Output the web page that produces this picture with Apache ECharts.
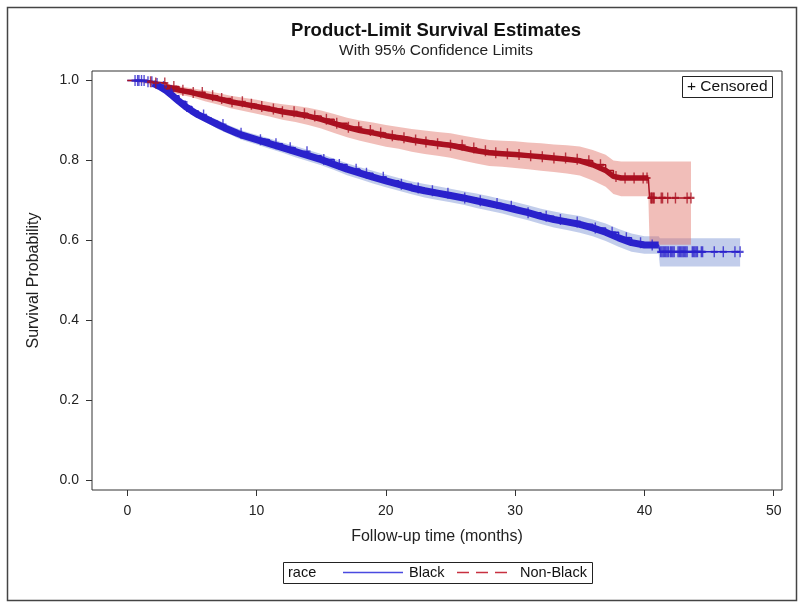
<!DOCTYPE html>
<html>
<head>
<meta charset="utf-8">
<script src="https://cdn.jsdelivr.net/npm/echarts@6/dist/echarts.min.js"></script>
<style>
  html, body { margin: 0; padding: 0; background: #fff; }
  #chart { width: 800px; height: 604px; }
</style>
</head>
<body>
<div id="chart"></div>
<script>
// Black: step survival curve with 95% limits
var blackTime  = [0, 1.5, 2.0, 2.5, 3.0, 3.5, 4.0, 4.5, 5.0, 5.5, 6.0, 6.5, 7.0, 7.5, 8.0, 8.5, 9.0, 9.5, 10, 11, 12, 13, 14, 15, 16, 17, 18, 19, 20, 21, 22, 23, 24, 25, 26, 27, 28, 29, 30, 31, 32, 33, 34, 35, 36, 37, 38, 39, 40, 41.1, 41.2, 47.4];
var blackSurv  = [1.0, 0.997, 0.993, 0.985, 0.975, 0.962, 0.948, 0.935, 0.924, 0.914, 0.906, 0.898, 0.890, 0.882, 0.875, 0.868, 0.862, 0.857, 0.852, 0.842, 0.832, 0.822, 0.812, 0.802, 0.790, 0.778, 0.768, 0.758, 0.749, 0.740, 0.731, 0.724, 0.718, 0.712, 0.706, 0.699, 0.692, 0.685, 0.677, 0.669, 0.660, 0.652, 0.646, 0.640, 0.631, 0.620, 0.606, 0.594, 0.588, 0.588, 0.571, 0.571];
var blackLower = [1.0, 0.994, 0.989, 0.980, 0.969, 0.955, 0.940, 0.927, 0.915, 0.905, 0.896, 0.888, 0.879, 0.871, 0.864, 0.856, 0.850, 0.845, 0.840, 0.829, 0.819, 0.808, 0.798, 0.788, 0.776, 0.763, 0.753, 0.742, 0.733, 0.724, 0.715, 0.707, 0.701, 0.695, 0.689, 0.681, 0.674, 0.667, 0.658, 0.650, 0.641, 0.632, 0.626, 0.619, 0.610, 0.598, 0.584, 0.571, 0.566, 0.566, 0.534, 0.534];
var blackUpper = [1.0, 1.0, 0.997, 0.990, 0.981, 0.969, 0.956, 0.943, 0.933, 0.923, 0.916, 0.908, 0.901, 0.893, 0.886, 0.880, 0.874, 0.869, 0.864, 0.855, 0.845, 0.836, 0.826, 0.816, 0.804, 0.793, 0.783, 0.774, 0.765, 0.756, 0.747, 0.741, 0.735, 0.729, 0.723, 0.717, 0.710, 0.703, 0.696, 0.688, 0.679, 0.672, 0.666, 0.661, 0.652, 0.642, 0.628, 0.617, 0.610, 0.610, 0.605, 0.605];
var blackCensored = [0.6, 0.8, 0.9, 1.1, 1.3, 1.6, 1.9, 2.3, 2.8, 3.4, 4.6, 5.9, 7.4, 8.8, 10.3, 11.5, 12.6, 13.9, 15.2, 16.4, 17.7, 18.5, 19.8, 21.2, 22.5, 23.6, 24.8, 26.1, 27.3, 28.6, 29.7, 31.0, 32.4, 33.5, 34.8, 36.2, 37.5, 38.6, 39.7, 40.6,
  41.25, 41.35, 41.45, 41.55, 41.65, 41.75, 41.85, 42.0, 42.1, 42.2, 42.3, 42.6, 42.7, 42.8, 42.9, 43.0, 43.1, 43.2, 43.3, 43.7, 43.8, 43.9, 44.0, 44.1, 44.4, 44.5, 45.4, 46.1, 47.0, 47.4];

// Non-Black
var nonBlackTime  = [0, 1.5, 2, 3, 4, 5, 6, 7, 8, 9, 10, 11, 12, 13, 14, 15, 16, 17, 18, 19, 20, 21, 22, 23, 24, 25, 26, 27, 28, 29, 30, 31, 32, 33, 34, 35, 36, 37, 37.6, 38.2, 40.3, 40.4, 43.6];
var nonBlackSurv  = [1.0, 0.997, 0.994, 0.985, 0.976, 0.970, 0.962, 0.955, 0.947, 0.941, 0.935, 0.929, 0.922, 0.917, 0.911, 0.903, 0.893, 0.883, 0.875, 0.869, 0.862, 0.857, 0.851, 0.846, 0.842, 0.838, 0.831, 0.824, 0.819, 0.817, 0.815, 0.812, 0.809, 0.806, 0.803, 0.799, 0.789, 0.775, 0.760, 0.756, 0.756, 0.706, 0.706];
var nonBlackLower = [1.0, 0.992, 0.988, 0.976, 0.965, 0.958, 0.948, 0.940, 0.931, 0.924, 0.917, 0.910, 0.902, 0.896, 0.889, 0.880, 0.869, 0.858, 0.849, 0.842, 0.834, 0.829, 0.822, 0.816, 0.812, 0.807, 0.799, 0.792, 0.786, 0.784, 0.781, 0.778, 0.774, 0.771, 0.767, 0.762, 0.750, 0.734, 0.716, 0.710, 0.710, 0.589, 0.589];
var nonBlackUpper = [1.0, 1.0, 0.999, 0.993, 0.986, 0.981, 0.975, 0.969, 0.962, 0.957, 0.952, 0.946, 0.941, 0.937, 0.932, 0.925, 0.916, 0.907, 0.900, 0.895, 0.889, 0.884, 0.879, 0.875, 0.871, 0.868, 0.862, 0.856, 0.851, 0.849, 0.848, 0.845, 0.843, 0.840, 0.838, 0.835, 0.826, 0.814, 0.800, 0.797, 0.797, 0.797, 0.797];
var nonBlackCensored = [1.8, 2.2, 2.9, 3.6, 4.3, 5.1, 5.8, 6.6, 7.3, 8.1, 8.9, 9.6, 10.4, 11.3, 12.0, 12.9, 13.7, 14.5, 15.4, 16.2, 17.1, 17.9, 18.8, 19.6, 20.5, 21.4, 22.3, 23.1, 24.0, 25.0, 25.9, 26.8, 27.7, 28.5, 29.4, 30.3, 31.2, 32.1, 33.0, 33.9, 34.8, 35.7, 36.6, 37.8, 38.5, 39.2, 39.9, 40.2,
  40.5, 40.55, 40.6, 40.7, 40.75, 41.3, 41.4, 41.8, 42.4, 43.3, 43.6];

var xTicks = [0, 10, 20, 30, 40, 50];
var yTicks = [0, 0.2, 0.4, 0.6, 0.8, 1.0];

var blueLine = '#2a22cc';
var redLine = '#aa1020';
var blueBand = 'rgba(120,145,210,0.45)';
var redBand = 'rgba(225,110,100,0.45)';
var font = 'Liberation Sans, Arial, sans-serif';

function pairs(t, v) {
  var out = [];
  for (var i = 0; i < t.length; i++) out.push([t[i], v[i]]);
  return out;
}
// survival value in effect at time x (step function)
function survAt(t, s, x) {
  var v = s[0];
  for (var i = 0; i < t.length; i++) { if (t[i] <= x) v = s[i]; }
  return v;
}
function censorPts(c, t, s) {
  return c.map(function (x) { return [x, survAt(t, s, x)]; });
}
function between(t, s, a, b) {
  var out = [];
  for (var i = 0; i < t.length; i++) if (t[i] >= a && t[i] <= b) out.push([t[i], s[i]]);
  return out;
}

// confidence band as one polygon, placed with the axes' own scales
function bandSeries(name, t, lo, hi, color) {
  return {
    type: 'custom', name: name, silent: true, z: 1,
    data: [[t[0], lo[0]]],
    renderItem: function (params, api) {
      var top = [], bot = [];
      for (var i = 0; i < t.length; i++) {
        top.push(api.coord([t[i], hi[i]]));
        bot.push(api.coord([t[i], lo[i]]));
      }
      return { type: 'polygon', shape: { points: top.concat(bot.reverse()) }, style: { fill: color } };
    }
  };
}

var plus = 'path://M4,0h2v4h4v2h-4v4h-2v-4h-4v-2h4z';

var chart = echarts.init(document.getElementById('chart'));
var option = {
  backgroundColor: '#fff',
  animation: false,
  grid: {
    left: 92, right: 18, top: 71, bottom: 114,
    show: true, borderColor: '#333', borderWidth: 1, backgroundColor: '#fff'
  },
  xAxis: {
    type: 'value', min: -2.73, max: 50.64,
    name: 'Follow-up time (months)', nameLocation: 'middle', nameGap: 39,
    nameTextStyle: { fontFamily: font, fontSize: 16, color: '#222' },
    axisLine: { show: false, onZero: false },
    axisTick: { show: true, length: 6, lineStyle: { color: '#333' }, customValues: xTicks },
    axisLabel: { fontFamily: font, fontSize: 14, color: '#222', margin: 14, customValues: xTicks },
    splitLine: { show: false }
  },
  yAxis: {
    type: 'value', min: -0.0256, max: 1.024,
    name: 'Survival Probability', nameLocation: 'middle', nameGap: 50,
    nameTextStyle: { fontFamily: font, fontSize: 16, color: '#222' },
    axisLine: { show: false, onZero: false },
    axisTick: { show: true, length: 6, lineStyle: { color: '#333' }, customValues: yTicks },
    axisLabel: { fontFamily: font, fontSize: 14, color: '#222', margin: 13, customValues: yTicks,
      formatter: function (v) { return v.toFixed(1); } },
    splitLine: { show: false }
  },
  series: [
    bandSeries('Black CL', blackTime, blackLower, blackUpper, blueBand),
    bandSeries('Non-Black CL', nonBlackTime, nonBlackLower, nonBlackUpper, redBand),
    { type: 'line', name: 'Black', step: 'end', symbol: 'none', z: 3,
      data: pairs(blackTime, blackSurv), lineStyle: { color: blueLine, width: 1.5 } },
    { type: 'line', name: 'Black dense', symbol: 'none', z: 3,
      data: between(blackTime, blackSurv, 2.0, 41.1), lineStyle: { color: blueLine, width: 7 } },
    { type: 'line', name: 'Non-Black', step: 'end', symbol: 'none', z: 4,
      data: pairs(nonBlackTime, nonBlackSurv), lineStyle: { color: redLine, width: 1.5 } },
    { type: 'line', name: 'Non-Black dense', symbol: 'none', z: 4,
      data: between(nonBlackTime, nonBlackSurv, 2.5, 40.3), lineStyle: { color: redLine, width: 5.5 } },
    { type: 'scatter', name: 'Black censored', symbol: plus, symbolSize: [7, 11], z: 5,
      data: censorPts(blackCensored, blackTime, blackSurv), itemStyle: { color: blueLine } },
    { type: 'scatter', name: 'Non-Black censored', symbol: plus, symbolSize: [7, 11], z: 6,
      data: censorPts(nonBlackCensored, nonBlackTime, nonBlackSurv), itemStyle: { color: redLine } }
  ],
  graphic: [
    // titles
    { type: 'text', x: 436, y: 31, style: { text: 'Product-Limit Survival Estimates', font: 'bold 18.5px ' + font, fill: '#111', align: 'center', verticalAlign: 'middle' }, z: 11 },
    { type: 'text', x: 436, y: 51, style: { text: 'With 95% Confidence Limits', font: '15.5px ' + font, fill: '#222', align: 'center', verticalAlign: 'middle' }, z: 11 },
    // outer picture border
    { type: 'rect', shape: { x: 7.5, y: 7.5, width: 789, height: 593 }, style: { fill: 'none', stroke: '#444', lineWidth: 1.5 }, z: 10 },
    // censored inset
    { type: 'rect', shape: { x: 682.5, y: 76.5, width: 90, height: 21 }, style: { fill: '#fff', stroke: '#222', lineWidth: 1 }, z: 10 },
    { type: 'text', x: 687, y: 87, style: { text: '+ Censored', font: '15.5px ' + font, fill: '#111', verticalAlign: 'middle' }, z: 11 },
    // bottom legend
    { type: 'rect', shape: { x: 283.5, y: 562.5, width: 309, height: 21 }, style: { fill: '#fff', stroke: '#222', lineWidth: 1 }, z: 10 },
    { type: 'text', x: 288, y: 573, style: { text: 'race', font: '14.5px ' + font, fill: '#111', verticalAlign: 'middle' }, z: 11 },
    { type: 'line', shape: { x1: 343, y1: 572.5, x2: 403, y2: 572.5 }, style: { stroke: '#4a4ae0', lineWidth: 1.5 }, z: 11 },
    { type: 'text', x: 409, y: 573, style: { text: 'Black', font: '14.5px ' + font, fill: '#111', verticalAlign: 'middle' }, z: 11 },
    { type: 'line', shape: { x1: 457, y1: 572.5, x2: 513, y2: 572.5 }, style: { stroke: '#c83040', lineWidth: 1.5, lineDash: [12, 7] }, z: 11 },
    { type: 'text', x: 520, y: 573, style: { text: 'Non-Black', font: '14.5px ' + font, fill: '#111', verticalAlign: 'middle' }, z: 11 }
  ]
};
chart.setOption(option);
</script>
</body>
</html>
